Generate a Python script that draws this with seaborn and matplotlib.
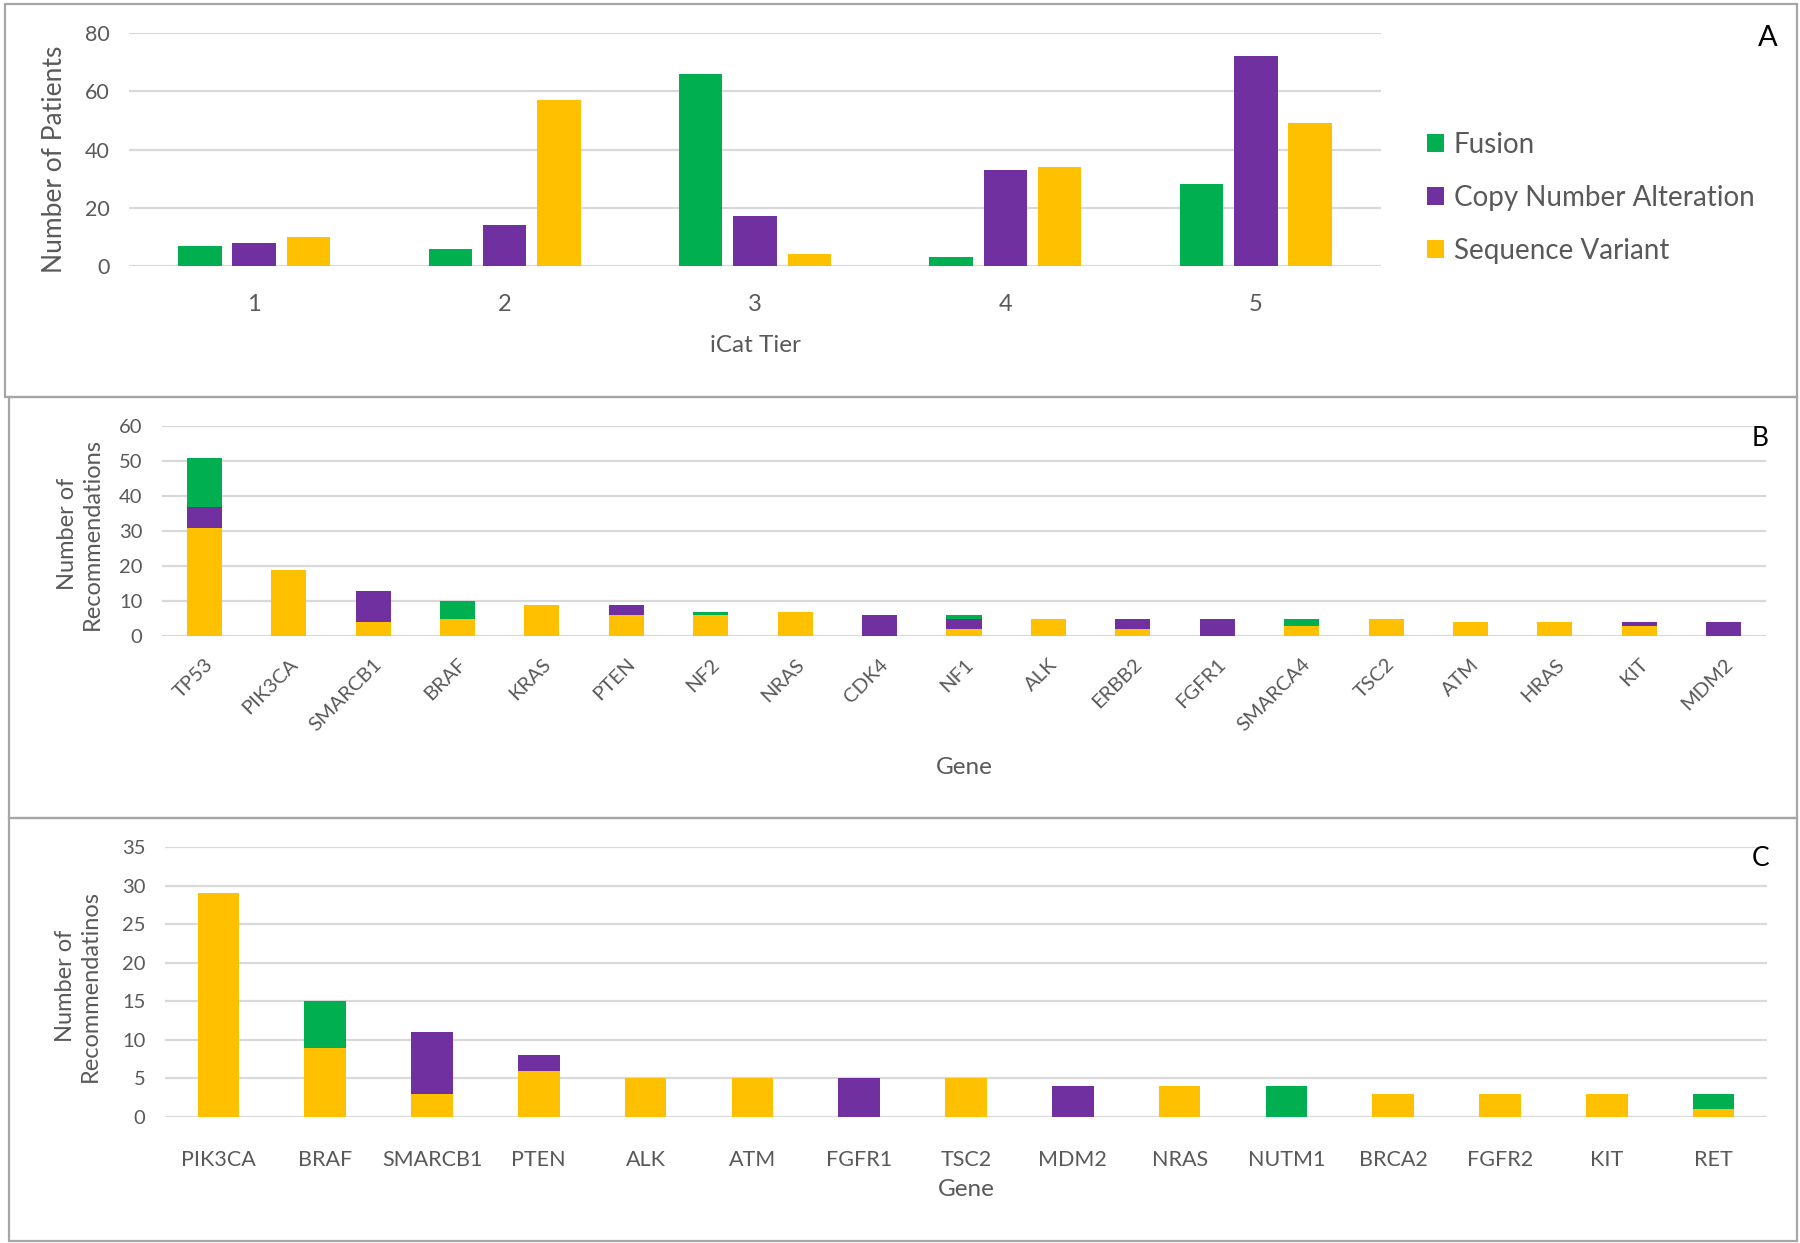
import numpy as np
import pandas as pd
import matplotlib
matplotlib.use("Agg")
import matplotlib.pyplot as plt
import seaborn as sns
from matplotlib.patches import Patch, Rectangle

# ---------------- data ----------------
tiers = ["1", "2", "3", "4", "5"]
types = ["Fusion", "Copy Number Alteration", "Sequence Variant"]
tier_fusion = [7, 6, 66, 3, 28]
tier_cna = [8, 14, 17, 33, 72]
tier_seq = [10, 57, 4, 34, 49]

genes_b = ["TP53", "PIK3CA", "SMARCB1", "BRAF", "KRAS", "PTEN", "NF2", "NRAS", "CDK4",
           "NF1", "ALK", "ERBB2", "FGFR1", "SMARCA4", "TSC2", "ATM", "HRAS", "KIT", "MDM2"]
b_seq = [31, 19, 4, 5, 9, 6, 6, 7, 0, 2, 5, 2, 0, 3, 5, 4, 4, 3, 0]
b_cna = [6, 0, 9, 0, 0, 3, 0, 0, 6, 3, 0, 3, 5, 0, 0, 0, 0, 1, 4]
b_fus = [14, 0, 0, 5, 0, 0, 1, 0, 0, 1, 0, 0, 0, 2, 0, 0, 0, 0, 0]

genes_c = ["PIK3CA", "BRAF", "SMARCB1", "PTEN", "ALK", "ATM", "FGFR1", "TSC2", "MDM2",
           "NRAS", "NUTM1", "BRCA2", "FGFR2", "KIT", "RET"]
c_seq = [29, 9, 3, 6, 5, 5, 0, 5, 0, 4, 0, 3, 3, 3, 1]
c_cna = [0, 0, 8, 2, 0, 0, 5, 0, 4, 0, 0, 0, 0, 0, 0]
c_fus = [0, 6, 0, 0, 0, 0, 0, 0, 0, 0, 4, 0, 0, 0, 2]

# ---------------- style ----------------
GREEN, PURPLE, GOLD = "#00B050", "#7030A0", "#FFC000"
palette = dict(zip(types, [GREEN, PURPLE, GOLD]))
TXT = "#595959"
GRID = "#D9D9D9"

sns.set_theme(style="white")
plt.rcParams["font.family"] = ["Lato", "DejaVu Sans"]
plt.rcParams["text.color"] = TXT
plt.rcParams["axes.labelcolor"] = TXT
plt.rcParams["xtick.color"] = TXT
plt.rcParams["ytick.color"] = TXT

W, H = 1800, 1243
fig = plt.figure(figsize=(W / 100, H / 100), dpi=100)


def fx(px):
    return px / W


def fy(py):
    return 1 - py / H


def make_axes(x0, x1, y_top, y_bot):
    return fig.add_axes([fx(x0), fy(y_bot), fx(x1) - fx(x0), (y_bot - y_top) / H])


def style_axes(ax, ymax, step, ytick_size):
    ax.set_ylim(0, ymax)
    ax.set_yticks(np.arange(0, ymax + 0.1, step))
    ax.yaxis.grid(True, color=GRID, lw=1.6)
    ax.xaxis.grid(False)
    ax.set_axisbelow(True)
    for s in ax.spines.values():
        s.set_visible(False)
    ax.tick_params(axis="both", length=0)
    ax.tick_params(axis="y", labelsize=ytick_size, pad=14)


# panel frames
for (x0, y0, x1, y1) in [(5, 4, 1797, 397), (9, 397, 1797, 818), (9, 818, 1797, 1241)]:
    fig.add_artist(Rectangle((fx(x0), fy(y1)), fx(x1) - fx(x0), (y1 - y0) / H,
                             transform=fig.transFigure, fill=False,
                             edgecolor="#A6A6A6", lw=1.6))

# ---------------- Panel A ----------------
axA = make_axes(129, 1381, 33, 266)
dfA = pd.DataFrame({
    "tier": tiers * 3,
    "type": [t for t in types for _ in tiers],
    "count": tier_fusion + tier_cna + tier_seq,
})
sns.barplot(data=dfA, x="tier", y="count", hue="type", hue_order=types, order=tiers,
            palette=palette, saturation=1, width=0.65, gap=0.2, errorbar=None,
            linewidth=0, legend=False, ax=axA)
style_axes(axA, 80, 20, 15.5)
axA.tick_params(axis="x", labelsize=17, pad=20)
axA.set_xlabel("iCat Tier", fontsize=17.5)
axA.xaxis.set_label_coords(0.5, -(345 - 266) / 233)
axA.xaxis.label.set_va("center")
axA.set_ylabel("Number of Patients", fontsize=19)
axA.yaxis.set_label_coords((55 - 129) / 1252, (266 - 159) / 233)
axA.yaxis.label.set_va("center")
handles = [Patch(facecolor=palette[t], edgecolor="none") for t in types]
fig.legend(handles, types, loc="center left", bbox_to_anchor=(fx(1402), fy(198)),
           frameon=False, fontsize=20, handlelength=0.62, handleheight=0.62,
           handletextpad=0.35, labelspacing=0.98, labelcolor=TXT)
fig.text(fx(1768), fy(38), "A", fontsize=21, color="black", ha="center", va="center")


# ---------------- stacked helper ----------------
def stacked(ax, genes, seq, cna, fus, width):
    seq = np.array(seq)
    cna = np.array(cna)
    fus = np.array(fus)
    total = seq + cna + fus
    mid = seq + cna
    for vals, col in [(total, GREEN), (mid, PURPLE), (seq, GOLD)]:
        sns.barplot(x=genes, y=vals, order=genes, color=col, saturation=1,
                    width=width, errorbar=None, linewidth=0, ax=ax)


# ---------------- Panel B ----------------
axB = make_axes(162, 1766, 426, 636)
stacked(axB, genes_b, b_seq, b_cna, b_fus, 0.415)
style_axes(axB, 60, 10, 14.5)
axB.tick_params(axis="x", labelsize=14.5, pad=14)
for lab in axB.get_xticklabels():
    lab.set_rotation(45)
    lab.set_ha("right")
    lab.set_rotation_mode("anchor")
axB.set_xlabel("Gene", fontsize=17.5)
axB.xaxis.set_label_coords(0.5, -(768 - 636) / 210)
axB.xaxis.label.set_va("center")
axB.set_ylabel("Number of\nRecommendations", fontsize=17, linespacing=1.2)
axB.yaxis.set_label_coords((80 - 162) / 1604, (636 - 534) / 210)
axB.yaxis.label.set_va("center")
fig.text(fx(1760), fy(438), "B", fontsize=19, color="black", ha="center", va="center")

# ---------------- Panel C ----------------
axC = make_axes(165, 1767, 847, 1117)
stacked(axC, genes_c, c_seq, c_cna, c_fus, 0.39)
style_axes(axC, 35, 5, 14.5)
axC.tick_params(axis="x", labelsize=15.5, pad=24)
axC.set_xlabel("Gene", fontsize=17.5)
axC.xaxis.set_label_coords(0.5, -(1190 - 1117) / 270)
axC.xaxis.label.set_va("center")
axC.set_ylabel("Number of\nRecommendatinos", fontsize=17, linespacing=1.2)
axC.yaxis.set_label_coords((78 - 165) / 1602, (1117 - 986) / 270)
axC.yaxis.label.set_va("center")
fig.text(fx(1761), fy(858), "C", fontsize=19, color="black", ha="center", va="center")

fig.savefig("out.png", dpi=100, facecolor="white")
